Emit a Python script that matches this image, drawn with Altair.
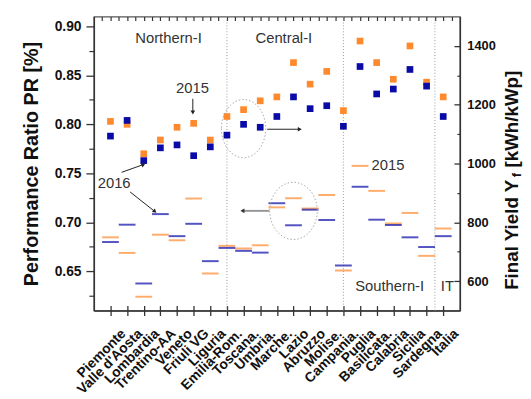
import json
import altair as alt
import pandas as pd

regions = ["Piemonte", "Valle d'Aosta", "Lombardia", "Trentino-AA", "Veneto", "Friuli VG",
           "Liguria", "Emilia-Rom.", "Toscana.", "Umbria.", "Marche.", "Lazio", "Abruzzo",
           "Molise.", "Campania.", "Puglia", "Basilicata.", "Calabria", "Sicilia", "Sardegna", "Italia"]
pr_2015 = [0.803, 0.800, 0.770, 0.784, 0.797, 0.801, 0.784, 0.808, 0.815, 0.824, 0.828,
           0.863, 0.841, 0.854, 0.814, 0.885, 0.863, 0.846, 0.880, 0.843, 0.828]
pr_2016 = [0.788, 0.804, 0.763, 0.776, 0.779, 0.768, 0.777, 0.789, 0.800, 0.797, 0.808,
           0.828, 0.816, 0.819, 0.798, 0.859, 0.831, 0.836, 0.856, 0.839, 0.808]
yf_2015 = [749, 696, 547, 758, 739, 881, 626, 720, 711, 722, 851, 882, 847, 893, 636,
           992, 907, 796, 832, 686, 779]
yf_2016 = [733, 792, 592, 828, 753, 795, 668, 713, 703, 697, 865, 790, 843, 808, 653,
           921, 809, 791, 749, 716, 753]
years = ["2015", "2016"]
pr_ticks = [0.65, 0.70, 0.75, 0.80, 0.85, 0.90]
pr_minor = [0.625, 0.675, 0.725, 0.775, 0.825, 0.875]
yf_ticks = [600, 800, 1000, 1200, 1400]
yf_minor = [700, 900, 1100, 1300]
separators = [8, 15, 20.5]

zone_labels = ["Northern-I", "Central-I", "Southern-I", "IT", "2015", "2016", "2015"]
zone_x = [4.49, 11.42, 17.78, 21.25, 5.93, 1.22, 17.68]
zone_pr = [0.888, 0.888, 0.635, 0.635, 0.837, 0.740, 0.758]

arr_x = [5.95, 1.67, 2.18, 10.42]
arr_y = [0.826, 0.751, 0.731, 0.795]
arr_x2 = [5.95, 2.98, 3.67, 12.38]
arr_y2 = [0.812, 0.759, 0.711, 0.795]
arr_ang = [180, 66, 129, 90]

FONT = "Liberation Sans"
W, H = 371, 298
C_SQ = ["#FF8A2E", "#0A0AA6"]
C_DASH = ["#FFA246", "#4848CF"]

n = len(regions)
pos = list(range(1, n + 1))
sq = pd.DataFrame({"pos": pos * 2, "pr": pr_2015 + pr_2016, "year": [years[0]] * n + [years[1]] * n})
yf = pd.DataFrame({"pos": pos * 2, "yf": yf_2015 + yf_2016, "year": [years[0]] * n + [years[1]] * n})

xs = alt.Scale(domain=[0, n + 1], nice=False, zero=False)
prs = alt.Scale(domain=[0.61, 0.91], nice=False, zero=False)
yfs = alt.Scale(domain=[500, 1500], nice=False, zero=False)

label_expr = json.dumps(regions) + "[datum.value - 1]"
TC = "#333333"

squares = alt.Chart(sq).mark_square(size=46, opacity=1).encode(
    x=alt.X("pos:Q", scale=xs, title=None,
            axis=alt.Axis(values=pos, labelExpr=label_expr, labelAngle=-45, labelFontSize=14,
                          labelFontWeight="bold", labelFont=FONT, labelColor="#111",
                          labelAlign="right", labelBaseline="top", labelPadding=11,
                          labelOffset=8,
                          labelOverlap=False, labelBound=False, labelFlush=False,
                          tickSize=5, tickColor=TC, tickWidth=1.3, domainColor=TC,
                          domainWidth=1.5, grid=False)),
    y=alt.Y("pr:Q", scale=prs,
            axis=alt.Axis(orient="left", values=pr_ticks, format=".2f",
                          title="Performance Ratio PR [%]", titleFont=FONT, titleFontSize=20,
                          titleFontWeight="bold", titleColor="#111", titlePadding=13,
                          labelFont=FONT, labelFontSize=14, labelFontWeight="bold",
                          labelColor="#111", labelPadding=5, tickSize=8, tickColor=TC,
                          tickWidth=1.3, domainColor=TC, domainWidth=1.5, grid=False,
                          labelOverlap=False)),
    color=alt.Color("year:N", scale=alt.Scale(domain=years, range=C_SQ), legend=None),
)

aux1 = alt.Chart(sq).mark_square(opacity=0).encode(
    x=alt.X("pos:Q", scale=xs, title=None,
            axis=alt.Axis(orient="top", offset=-H, values=pos, labels=False, tickSize=5,
                          tickColor=TC, tickWidth=1.3, domain=False, grid=False)),
    y=alt.Y("pr:Q", scale=prs, title=None,
            axis=alt.Axis(orient="left", values=pr_minor, labels=False, tickSize=5,
                          tickColor=TC, tickWidth=1.2, domain=False, grid=False)),
)

dashes = alt.Chart(yf).mark_tick(orient="horizontal", size=17, thickness=2).encode(
    x=alt.X("pos:Q", scale=xs, axis=None),
    y=alt.Y("yf:Q", scale=yfs, title=None,
            axis=alt.Axis(orient="right", values=yf_ticks, format="d", ticks=False,
                          labelPadding=7, labelFont=FONT, labelFontSize=13,
                          labelFontWeight="bold", labelColor="#111", domainColor=TC,
                          domainWidth=1.5, grid=False, labelOverlap=False)),
    color=alt.Color("year:N", scale=alt.Scale(domain=years, range=C_DASH), legend=None),
)

half = [i / 2 for i in range(1, 2 * n + 2)]
aux2 = alt.Chart(yf).mark_tick(opacity=0).encode(
    x=alt.X("pos:Q", scale=xs, title=None,
            axis=alt.Axis(orient="bottom", offset=-H, values=half, labels=False, tickSize=4,
                          tickColor=TC, tickWidth=1.2, domain=False, grid=False)),
    y=alt.Y("yf:Q", scale=yfs, title=None,
            axis=alt.Axis(orient="left", offset=-W, values=yf_ticks, labels=False, tickSize=6,
                          tickColor=TC, tickWidth=1.3, domain=False, grid=False)),
)
aux3 = alt.Chart(yf).mark_tick(opacity=0).encode(
    x=alt.X("pos:Q", scale=xs, axis=None),
    y=alt.Y("yf:Q", scale=yfs, title=None,
            axis=alt.Axis(orient="left", offset=-W, values=yf_minor, labels=False, tickSize=3,
                          tickColor=TC, tickWidth=1.2, domain=False, grid=False)),
)

seps = alt.Chart(pd.DataFrame({"v": separators})).mark_rule(
    strokeDash=[1, 2], color="#9a9a9a", strokeWidth=1).encode(
    x=alt.X("v:Q", scale=xs, axis=None))

zones = alt.Chart(pd.DataFrame({"t": zone_labels, "x": zone_x, "y": zone_pr})).mark_text(
    font=FONT, fontSize=15, color="#333", baseline="middle").encode(
    x=alt.X("x:Q", scale=xs, axis=None),
    y=alt.Y("y:Q", scale=prs, axis=None),
    text="t:N")

arr_df = pd.DataFrame({"x": arr_x, "y": arr_y, "x2": arr_x2, "y2": arr_y2, "a": arr_ang})
arr_lines = alt.Chart(arr_df).mark_rule(color="#222", strokeWidth=1).encode(
    x=alt.X("x:Q", scale=xs, axis=None), y=alt.Y("y:Q", scale=prs, axis=None),
    x2="x2:Q", y2="y2:Q")
arr_heads = alt.Chart(arr_df).mark_point(shape="triangle-up", filled=True, size=22,
                                         color="#222", opacity=1).encode(
    x=alt.X("x2:Q", scale=xs, axis=None), y=alt.Y("y2:Q", scale=prs, axis=None),
    angle=alt.Angle("a:Q", scale=None))

ell1 = alt.Chart(pd.DataFrame({"x": [9.0], "y": [0.7956]})).mark_point(
    shape="M -0.76 0 A 0.76 1 0 1 0 0.76 0 A 0.76 1 0 1 0 -0.76 0 Z", size=3481,
    filled=False, color="#aaa", strokeDash=[1.5, 2], strokeWidth=1, opacity=1).encode(
    x=alt.X("x:Q", scale=xs, axis=None), y=alt.Y("y:Q", scale=prs, axis=None))

ell2_df = pd.DataFrame({"x": [12.0], "y": [839], "x1": [10.54], "x2": [8.93], "a": [270]})
ell2 = alt.Chart(ell2_df).mark_point(
    shape="M -0.83 0 A 0.83 1 0 1 0 0.83 0 A 0.83 1 0 1 0 -0.83 0 Z", size=3364,
    filled=False, color="#aaa", strokeDash=[1.5, 2], strokeWidth=1, opacity=1).encode(
    x=alt.X("x:Q", scale=xs, axis=None), y=alt.Y("y:Q", scale=yfs, axis=None))
ell2_line = alt.Chart(ell2_df).mark_rule(color="#999", strokeWidth=2).encode(
    x=alt.X("x1:Q", scale=xs, axis=None), x2="x2:Q", y=alt.Y("y:Q", scale=yfs, axis=None))
ell2_head = alt.Chart(ell2_df).mark_point(shape="triangle-up", filled=True, size=22,
                                          color="#333", opacity=1).encode(
    x=alt.X("x2:Q", scale=xs, axis=None), y=alt.Y("y:Q", scale=yfs, axis=None),
    angle=alt.Angle("a:Q", scale=None))

TX = 424
t1 = alt.Chart(pd.DataFrame({"t": ["Final Yield Y"]})).mark_text(
    font=FONT, fontSize=19, fontWeight="bold", color="#111", angle=270, align="left",
    baseline="middle").encode(x=alt.value(TX), y=alt.value(277), text="t:N")
t2 = alt.Chart(pd.DataFrame({"t": ["f"]})).mark_text(
    font=FONT, fontSize=13, fontWeight="bold", color="#111", angle=270, align="left",
    baseline="middle").encode(x=alt.value(TX + 5), y=alt.value(163), text="t:N")
t3 = alt.Chart(pd.DataFrame({"t": ["[kWh/kWp]"]})).mark_text(
    font=FONT, fontSize=19, fontWeight="bold", color="#111", angle=270, align="left",
    baseline="middle").encode(x=alt.value(TX), y=alt.value(153), text="t:N")

chart = alt.layer(
    seps, squares, aux1, dashes, aux2, aux3, zones, arr_lines, arr_heads,
    ell1, ell2, ell2_line, ell2_head, t1, t2, t3
).resolve_scale(y="independent").resolve_axis(x="independent", y="independent").properties(
    width=W, height=H, autosize=alt.AutoSizeParams(type="none"),
    padding={"left": 87, "top": 6, "right": 64, "bottom": 86},
).configure_view(stroke="#555", strokeWidth=1.2)

chart.save("out.html", embed_options={"renderer": "svg", "actions": False})
